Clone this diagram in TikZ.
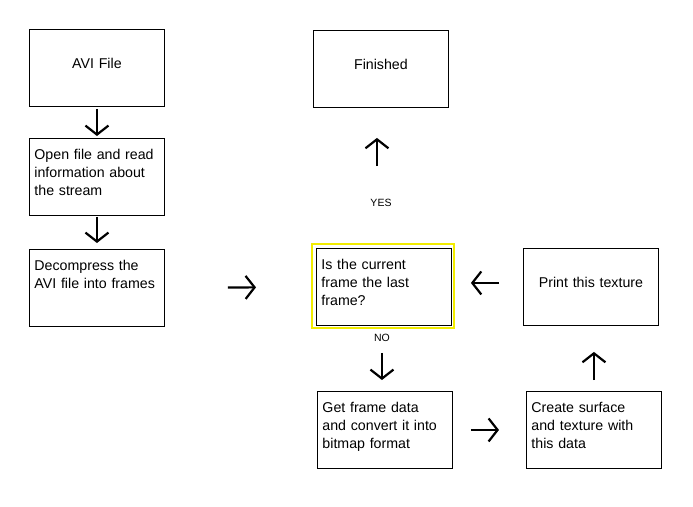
\documentclass[tikz,border=0pt]{standalone}
\usepackage{fontspec}
\setmainfont{Liberation Sans}
\usepackage{xcolor}
\usetikzlibrary{arrows.meta}
\definecolor{markyellow}{RGB}{242,236,0}
\tikzset{
  box/.style={
    draw, line width=0.9pt, anchor=north west, inner xsep=5pt, inner ysep=0pt,
    text width=125pt, font=\fontsize{14.2}{18}\selectfont
  },
  proc/.style={box, align=left, text height=21.5pt, text depth=55.5pt},
  term/.style={box, align=center, text height=39.5pt, text depth=37.5pt},
  flow/.style={line width=2.2pt},
  answer/.style={font=\fontsize{10.5}{12}\selectfont}
}

\begin{document}
\begin{tikzpicture}[x=1pt, y=-1pt,
% open arrow heads for all connectors
-{Straight Barb[length=9pt, width=23pt]}]
\useasboundingbox (0,0) rectangle (693,506);
% boxes
\node[term] (avi) at (29,29) {AVI File};
\node[proc] (open) at (29,138) {Open file and read\\information about\\the stream};
\node[proc] (decomp) at (29,249) {Decompress the\\AVI file into frames};
\node[term] (finished) at (313,30) {Finished};
\node[proc] (decide) at (316,248) {Is the current\\frame the last\\frame?};
\node[term] (print) at (523,248) {Print this texture};
\node[proc] (getframe) at (317,391) {Get frame data\\and convert it into\\bitmap format};
\node[proc] (create) at (526,391) {Create surface\\and texture with\\this data};
% highlight of the decision box
\draw[-, markyellow, line width=2pt]
  ([xshift=-4pt, yshift=4pt]decide.north west) rectangle ([xshift=2.5pt, yshift=-2.5pt]decide.south east);
% arrows
\draw[flow, shorten <=2pt, shorten >=2pt] (avi.south) -- (open.north);
\draw[flow, shorten <=1pt, shorten >=6pt] (open.south) -- (decomp.north);
\draw[flow, shorten <=63pt, shorten >=60pt] (decomp.east) -- (decide.west);
\draw[flow, shorten <=82pt, shorten >=30pt]
  ([xshift=-4pt]finished.south |- decide.north) -- ([xshift=-4pt]finished.south);
\draw[flow, shorten <=27pt, shorten >=11pt] ([xshift=-2pt]decide.south) -- ([xshift=-2pt]decide.south |- getframe.north);
\draw[flow, shorten <=18pt, shorten >=27pt] (getframe.east) -- (getframe.east -| create.west);
\draw[flow, shorten <=11pt, shorten >=26pt] (create.north) -- (create.north |- print.south);
\draw[flow, shorten <=24pt, shorten >=19pt] ([yshift=4pt]print.west) -- ([yshift=4pt]decide.east);
% annotations
\node[answer] (yes) at (381,203) {YES};
\node[answer] (no) at (382,338) {NO};
\end{tikzpicture}
\end{document}
